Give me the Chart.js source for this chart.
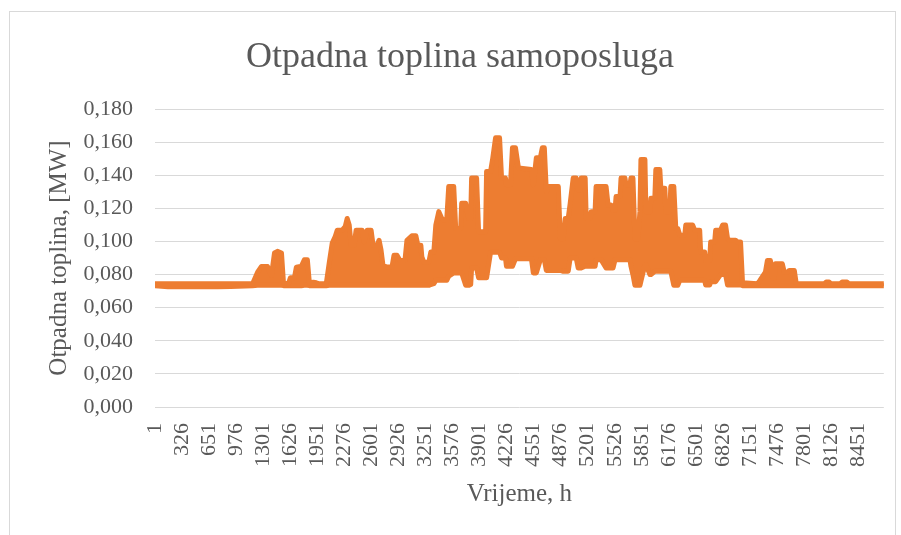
<!DOCTYPE html>
<html>
<head>
<meta charset="utf-8">
<script src="https://cdn.jsdelivr.net/npm/chart.js@4.4.1/dist/chart.umd.min.js"></script>
<style>
  html, body { margin: 0; padding: 0; background: #ffffff; }
  #wrap { position: relative; width: 901px; height: 535px; overflow: hidden; }
  #frame { position: absolute; left: 9px; top: 11px; width: 887px; height: 540px; border: 1px solid #D9D9D9; box-sizing: border-box; }
  canvas { position: absolute; left: 0; top: 0; }
</style>
</head>
<body>
<div id="wrap">
  <div id="frame"></div>
  <canvas id="c" width="901" height="535"></canvas>
</div>
<script>
// Hour of year (x) at which the envelope of the hourly series was read
const hours = [1,157,276,528,755,910,1174,1234,1281,1353,1401,1437,1473,1521,1545,1605,1628,1676,1700,1760,1796,1832,1856,1904,1940,1976,2059,2095,2131,2167,2191,2251,2287,2311,2335,2358,2394,2418,2490,2514,2550,2598,2622,2670,2694,2717,2741,2789,2849,2873,2909,2945,3005,3029,3088,3136,3160,3196,3208,3232,3292,3316,3352,3376,3412,3448,3471,3507,3531,3591,3615,3675,3687,3735,3771,3795,3806,3866,3890,3974,3986,4034,4058,4094,4142,4166,4213,4225,4273,4297,4333,4369,4525,4548,4584,4632,4656,4680,4704,4728,4788,4812,4848,4872,4907,4931,4967,4991,5027,5063,5087,5111,5123,5171,5183,5231,5243,5290,5302,5362,5422,5446,5482,5506,5530,5542,5590,5602,5649,5661,5709,5721,5745,5769,5805,5829,5841,5889,5901,5949,5961,6008,6020,6068,6080,6128,6140,6188,6200,6236,6260,6284,6308,6368,6380,6463,6487,6547,6559,6607,6619,6667,6679,6727,6739,6798,6822,6858,6882,6906,6978,7002,7038,7062,7241,7265,7337,7361,7397,7421,7444,7456,7540,7564,7600,7624,7684,7708,8043,8067,8103,8127,8234,8258,8318,8342,8760];
// Upper envelope (daily peaks) of waste heat, MW
const upperMW = [.0744,.0744,.0744,.0744,.0744,.0744,.0744,.0814,.0849,.0849,.0795,.0930,.0940,.0930,.0750,.0744,.0780,.0780,.0845,.0850,.0890,.0890,.0750,.0753,.0750,.0744,.0744,.0870,.0990,.1030,.1068,.1068,.1090,.1139,.1100,.0977,.0977,.1068,.1068,.0997,.1068,.1068,.0977,.0977,.1007,.0950,.0855,.0845,.0845,.0916,.0916,.0885,.0885,.1007,.1034,.1034,.0977,.0977,.0906,.0875,.0875,.0936,.0936,.1099,.1180,.1139,.1129,.1129,.1332,.1332,.1078,.1078,.1231,.1231,.1139,.1139,.1383,.1383,.1058,.1058,.1423,.1423,.1495,.1626,.1626,.1383,.1383,.1342,.1342,.1566,.1566,.1444,.1434,.1342,.1505,.1505,.1566,.1566,.1302,.1332,.1332,.1332,.1332,.1017,.1017,.1139,.1139,.1231,.1383,.1383,.1310,.1310,.1383,.1383,.1139,.1139,.1180,.1180,.1332,.1332,.1332,.1220,.1220,.1190,.1190,.1271,.1271,.1383,.1383,.1342,.1342,.1383,.1383,.1017,.1017,.1180,.1495,.1495,.1180,.1180,.1261,.1261,.1434,.1434,.1322,.1322,.1180,.1180,.1332,.1332,.1078,.1078,.1038,.1038,.1099,.1099,.1068,.1068,.0936,.0936,.0885,.0885,.0997,.0997,.1068,.1068,.1099,.1099,.1017,.1007,.1007,.0997,.0997,.0750,.0744,.0760,.0814,.0885,.0885,.0780,.0780,.0865,.0865,.0814,.0814,.0825,.0825,.0744,.0744,.0755,.0755,.0744,.0744,.0755,.0755,.0744,.0744];
// Lower envelope (daily minima) of waste heat, MW
const lowerMW = [.0733,.0727,.0728,.0727,.0727,.0728,.0733,.0735,.0735,.0735,.0735,.0735,.0735,.0735,.0733,.0733,.0733,.0733,.0733,.0733,.0735,.0735,.0733,.0733,.0733,.0733,.0733,.0735,.0735,.0735,.0735,.0735,.0735,.0735,.0735,.0735,.0735,.0735,.0735,.0735,.0735,.0735,.0735,.0735,.0735,.0735,.0735,.0735,.0735,.0735,.0735,.0735,.0735,.0735,.0735,.0735,.0735,.0735,.0735,.0735,.0735,.0740,.0745,.0765,.0765,.0765,.0765,.0765,.0790,.0810,.0810,.0810,.0810,.0735,.0735,.0740,.0840,.0840,.0780,.0780,.0780,.0935,.0935,.0935,.0935,.0900,.0900,.0850,.0850,.0850,.0895,.0895,.0895,.0810,.0810,.0890,.0890,.0890,.0825,.0825,.0825,.0825,.0825,.0825,.0820,.0820,.0820,.0900,.0900,.0900,.0840,.0840,.0840,.0850,.0850,.0850,.0850,.0850,.0890,.0890,.0840,.0840,.0840,.0840,.0890,.0890,.0890,.0890,.0890,.0890,.0890,.0850,.0800,.0735,.0735,.0735,.0760,.0860,.0860,.0800,.0800,.0820,.0820,.0820,.0820,.0820,.0820,.0820,.0820,.0735,.0735,.0735,.0765,.0765,.0765,.0765,.0765,.0765,.0765,.0765,.0737,.0737,.0757,.0757,.0757,.0800,.0800,.0800,.0737,.0737,.0737,.0737,.0737,.0733,.0733,.0733,.0733,.0733,.0733,.0733,.0733,.0733,.0733,.0733,.0733,.0733,.0733,.0733,.0733,.0733,.0733,.0733,.0733,.0733,.0733,.0733,.0733];
// Category labels shown on the time axis
const xTickHours = [1,326,651,976,1301,1626,1951,2276,2601,2926,3251,3576,3901,4226,4551,4876,5201,5526,5851,6176,6501,6826,7151,7476,7801,8126,8451];
const yMin = 0, yMax = 0.18, yStep = 0.02;
const chartTitle = 'Otpadna toplina samoposluga';

const FONT = "'Liberation Serif', 'Times New Roman', serif";
const TEXT = '#595959';
const ORANGE = '#ED7D31';

const upperPts = hours.map((h, i) => ({ x: h, y: upperMW[i] }));
const lowerPts = hours.map((h, i) => ({ x: h, y: lowerMW[i] }));

// Title centred over the chart frame (as in the Excel original)
const frameTitle = {
  id: 'frameTitle',
  afterDraw(chart) {
    const ctx = chart.ctx;
    ctx.save();
    ctx.fillStyle = TEXT;
    ctx.font = '36px ' + FONT;
    ctx.textAlign = 'center';
    ctx.textBaseline = 'alphabetic';
    ctx.fillText(chartTitle, 460, 67);
    ctx.restore();
  }
};

new Chart(document.getElementById('c').getContext('2d'), {
  type: 'line',
  data: {
    datasets: [
      { data: upperPts, borderColor: ORANGE, backgroundColor: ORANGE, borderWidth: 5,
        pointRadius: 0, fill: false, tension: 0, borderJoinStyle: 'round', borderCapStyle: 'round' },
      { data: lowerPts, borderColor: ORANGE, backgroundColor: ORANGE, borderWidth: 5,
        pointRadius: 0, fill: '-1', tension: 0, borderJoinStyle: 'round', borderCapStyle: 'round' }
    ]
  },
  plugins: [frameTitle],
  options: {
    responsive: false,
    animation: false,
    layout: { padding: { left: 0, right: 14, top: 109, bottom: 0 } },
    plugins: {
      legend: { display: false },
      tooltip: { enabled: false },
      title: { display: false }
    },
    scales: {
      x: {
        type: 'linear',
        min: 1,
        max: 8760,
        grid: { display: false, drawTicks: false },
        border: { display: false },
        afterBuildTicks: (s) => { s.ticks = xTickHours.map(v => ({ value: v })); },
        afterFit: (s) => { s.height = 128; },
        ticks: {
          autoSkip: false, minRotation: 90, maxRotation: 90, padding: 16,
          color: TEXT, font: { family: FONT, size: 22 },
          callback: (v) => String(v)
        },
        title: {
          display: true, text: 'Vrijeme, h', color: TEXT,
          font: { family: FONT, size: 25, weight: 'normal' },
          padding: { top: 0, bottom: 26 }
        }
      },
      y: {
        min: yMin,
        max: yMax,
        grid: { color: '#D9D9D9', lineWidth: 1, drawTicks: false },
        border: { display: false },
        afterFit: (s) => { s.width = 155; },
        ticks: {
          stepSize: yStep, padding: 22, color: TEXT,
          font: { family: FONT, size: 22 },
          callback: (v) => Number(v).toFixed(3).replace('.', ',')
        },
        title: {
          display: true, text: 'Otpadna toplina, [MW]', color: TEXT,
          font: { family: FONT, size: 25, weight: 'normal' },
          padding: { top: 44, bottom: 0 }
        }
      }
    }
  }
});
</script>
</body>
</html>
